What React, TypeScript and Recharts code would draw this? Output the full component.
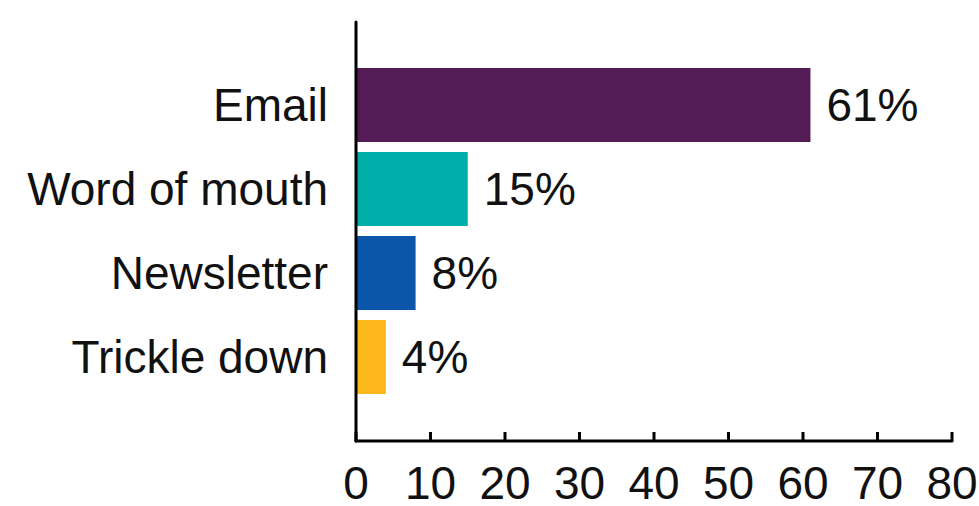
import React from "react";
import { BarChart, Bar, XAxis, YAxis, Cell, LabelList } from "recharts";

// 카테고리, 값, 색상
const channels = ["Email", "Word of mouth", "Newsletter", "Trickle down"];
const shares = [61, 15, 8, 4];
const barColors = ["#541C57", "#00AFA9", "#0B56A8", "#FDB71B"];
const xTicks = [0, 10, 20, 30, 40, 50, 60, 70, 80];

const data = channels.map((name, i) => ({ name, value: shares[i] }));

const FONT = "'Liberation Sans', Arial, Helvetica, sans-serif";
const FS = 46;

// x축 눈금: 위로 향하는 짧은 선 + 아래 숫자
function XTick(props: any) {
  const { x, y, payload } = props;
  return (
    <g>
      <line x1={x} x2={x} y1={y} y2={y - 9} stroke="#000" strokeWidth={3} />
      <text
        x={x}
        y={y + 58}
        textAnchor="middle"
        fontSize={FS}
        fontFamily={FONT}
        fill="#111"
      >
        {payload.value}
      </text>
    </g>
  );
}

export default function App() {
  return (
    <div style={{ position: "absolute", left: 0, top: 0, background: "#fff" }}>
      <BarChart
        width={979}
        height={506}
        data={data}
        layout="vertical"
        margin={{ top: 22, right: 27, bottom: 0, left: 0 }}
      >
        <XAxis
          type="number"
          domain={[0, 80]}
          ticks={xTicks}
          height={65}
          tickSize={0}
          tickMargin={0}
          tickLine={false}
          axisLine={{ stroke: "#000", strokeWidth: 3, strokeLinecap: "round" }}
          tick={<XTick />}
        />
        <YAxis
          type="category"
          dataKey="name"
          width={356}
          padding={{ top: 41, bottom: 42 }}
          tickSize={0}
          tickMargin={28}
          tickLine={false}
          axisLine={{ stroke: "#000", strokeWidth: 3, strokeLinecap: "round" }}
          tick={{ fontSize: FS, fontFamily: FONT, fill: "#111" }}
        />
        <Bar dataKey="value" barSize={74} isAnimationActive={false}>
          {data.map((entry, index) => (
            <Cell key={`cell-${index}`} fill={barColors[index]} />
          ))}
          <LabelList
            dataKey="value"
            position="right"
            offset={16}
            formatter={(v: any) => `${v}%`}
            style={{ fontSize: FS, fontFamily: FONT, fill: "#111" }}
          />
        </Bar>
      </BarChart>
    </div>
  );
}
